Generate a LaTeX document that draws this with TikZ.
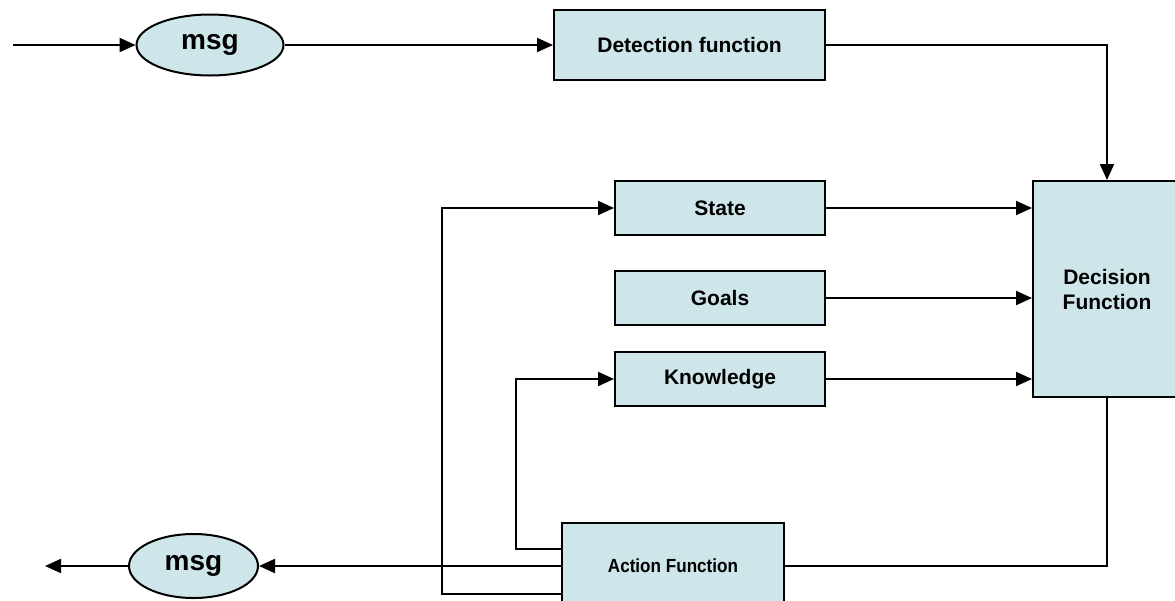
\documentclass[tikz,border=0pt]{standalone}
\usepackage{fontspec}
\setmainfont{Liberation Sans}
\usetikzlibrary{shapes.geometric,arrows.meta}
\definecolor{boxfill}{RGB}{206,230,234}
\tikzset{
  box/.style={draw=black,line width=2pt,fill=boxfill,rectangle,inner sep=0pt,
    font=\fontsize{21}{25}\selectfont\bfseries,align=center},
  oval/.style={draw=black,line width=2pt,fill=boxfill,ellipse,inner sep=0pt,
    font=\fontsize{28}{30}\selectfont\bfseries},
  arr/.style={line width=2pt,-{Triangle[length=16pt,width=14pt]}},
  ln/.style={line width=2pt}
}
\begin{document}
\begin{tikzpicture}[x=1pt,y=-1pt]
\useasboundingbox (0,0) rectangle (1175,600);
\clip (0,0) rectangle (1175,600);
\node[oval,minimum width=147pt,minimum height=61pt] (msg1) at (210,45) {msg};
\node[box,minimum width=271pt,minimum height=70pt] (det) at (689.5,45) {Detection function};
\node[box,minimum width=210pt,minimum height=54pt] (state) at (720,208) {State};
\node[box,minimum width=210pt,minimum height=54pt] (goals) at (720,298) {Goals};
\node[box,minimum width=210pt,minimum height=54pt] (know) at (720,379) {Knowledge};
\node[box,minimum width=148pt,minimum height=216pt] (dec) at (1107,289) {Decision\\Function};
\node[box,minimum width=222pt,minimum height=86pt] (act) at (673,566) {\fontsize{19}{22}\selectfont\bfseries\scalebox{0.9}[1]{Action Function}};
\node[oval,minimum width=129pt,minimum height=64pt] (msg2) at (193.5,566) {msg};
\coordinate (in) at (13,45);
\coordinate (out) at (45,566);
\draw[arr] (in) -- (msg1.west);
\draw[arr] (msg1.east) -- (det.west);
\draw[arr] (det.east) -| (dec.north);
\draw[arr] (state.east) -- (state.east -| dec.west);
\draw[arr] (goals.east) -- (goals.east -| dec.west);
\draw[arr] (know.east) -- (know.east -| dec.west);
\draw[ln] (dec.south) |- (act.east);
\draw[arr] (act.west) -- (msg2.east);
\draw[arr] (msg2.west) -- (out);
\draw[arr] ([yshift=17pt]act.west) -- ++(-45,0) |- (know.west);
\draw[arr] ([yshift=-28pt]act.west) -- ++(-119,0) |- (state.west);
\end{tikzpicture}
\end{document}
